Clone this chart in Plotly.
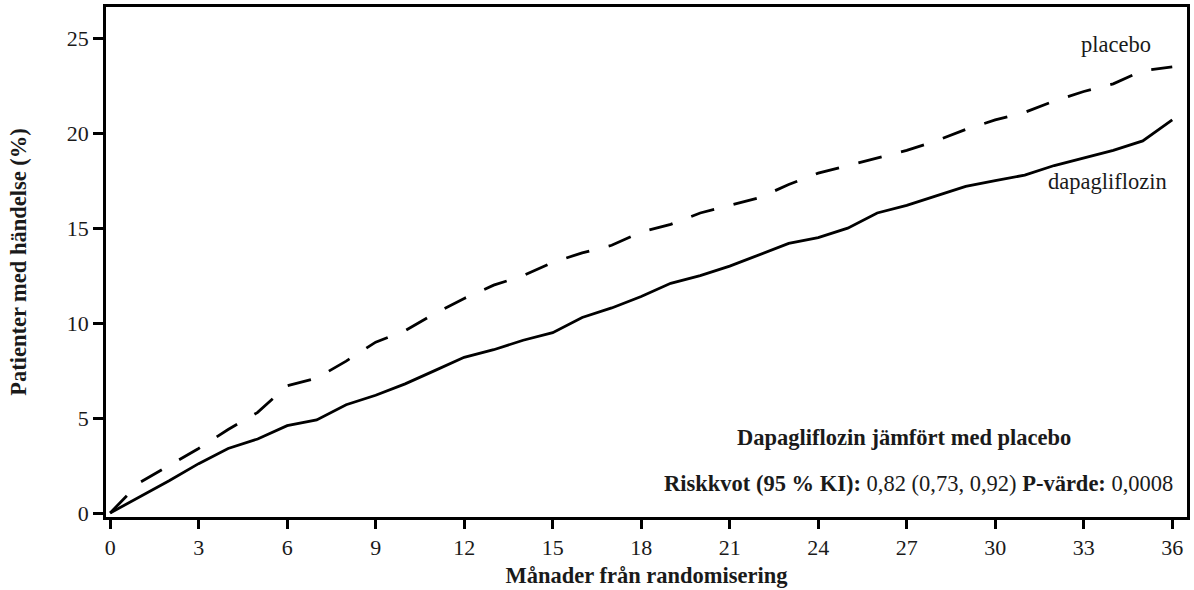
import plotly.graph_objects as go

months = list(range(0, 37))
dapagliflozin = [0, 0.85, 1.7, 2.6, 3.4, 3.9, 4.6, 4.9, 5.7, 6.2, 6.8, 7.5, 8.2, 8.6, 9.1, 9.5,
                 10.3, 10.8, 11.4, 12.1, 12.5, 13.0, 13.6, 14.2, 14.5, 15.0, 15.8, 16.2, 16.7,
                 17.2, 17.5, 17.8, 18.3, 18.7, 19.1, 19.6, 20.7]
placebo = [0, 1.6, 2.5, 3.4, 4.4, 5.3, 6.7, 7.1, 8.0, 9.0, 9.6, 10.5, 11.3, 12.0, 12.5, 13.2,
           13.7, 14.1, 14.8, 15.2, 15.8, 16.2, 16.6, 17.3, 17.9, 18.3, 18.7, 19.1, 19.6, 20.2,
           20.7, 21.1, 21.7, 22.2, 22.6, 23.3, 23.5]
x_ticks = list(range(0, 37, 3))
y_ticks = [0, 5, 10, 15, 20, 25]

FONT = "Liberation Serif"
INK = "#1a1a1a"
TXT = 22.5

fig = go.Figure()
fig.add_trace(go.Scatter(x=months, y=placebo, mode="lines", name="placebo",
                         line=dict(color="black", width=2.8, dash="24px,20px")))
fig.add_trace(go.Scatter(x=months, y=dapagliflozin, mode="lines", name="dapagliflozin",
                         line=dict(color="black", width=2.8)))

fig.add_annotation(x=34.1, y=24.65, text="placebo", showarrow=False,
                   font=dict(family=FONT, size=TXT, color=INK))
fig.add_annotation(x=33.8, y=17.45, text="dapagliflozin", showarrow=False,
                   font=dict(family=FONT, size=TXT, color=INK))
fig.add_annotation(x=26.9, y=4.0, text="<b>Dapagliflozin jämfört med placebo</b>", showarrow=False,
                   font=dict(family=FONT, size=TXT, color=INK))
fig.add_annotation(x=36.1, y=1.58, xanchor="right",
                   text="<b>Riskkvot (95 % KI):</b> 0,82 (0,73, 0,92) <b>P-värde:</b> 0,0008",
                   showarrow=False, font=dict(family=FONT, size=TXT, color=INK))

fig.update_layout(
    width=1194, height=590,
    margin=dict(l=106, r=4, t=7, b=73),
    paper_bgcolor="white", plot_bgcolor="white",
    showlegend=False,
    font=dict(family=FONT, color=INK),
    xaxis=dict(range=[-0.14, 36.5], tickvals=x_ticks, ticks="outside", ticklen=9, tickwidth=2.5,
               tickcolor="black", showline=True, linecolor="black", linewidth=2.5, mirror=True,
               showgrid=False, zeroline=False, tickfont=dict(family=FONT, size=22, color=INK),
               title=dict(text="<b>Månader från randomisering</b>", font=dict(family=FONT, size=TXT, color=INK),
                          standoff=9)),
    yaxis=dict(range=[-0.21, 26.65], tickvals=y_ticks, ticks="outside", ticklen=10, tickwidth=2.5,
               tickcolor="black", showline=True, linecolor="black", linewidth=2.5, mirror=True,
               showgrid=False, zeroline=False, tickfont=dict(family=FONT, size=22, color=INK),
               title=dict(text="<b>Patienter med händelse (%)</b>", font=dict(family=FONT, size=TXT, color=INK),
                          standoff=34)),
)

fig.write_html("out.html")
